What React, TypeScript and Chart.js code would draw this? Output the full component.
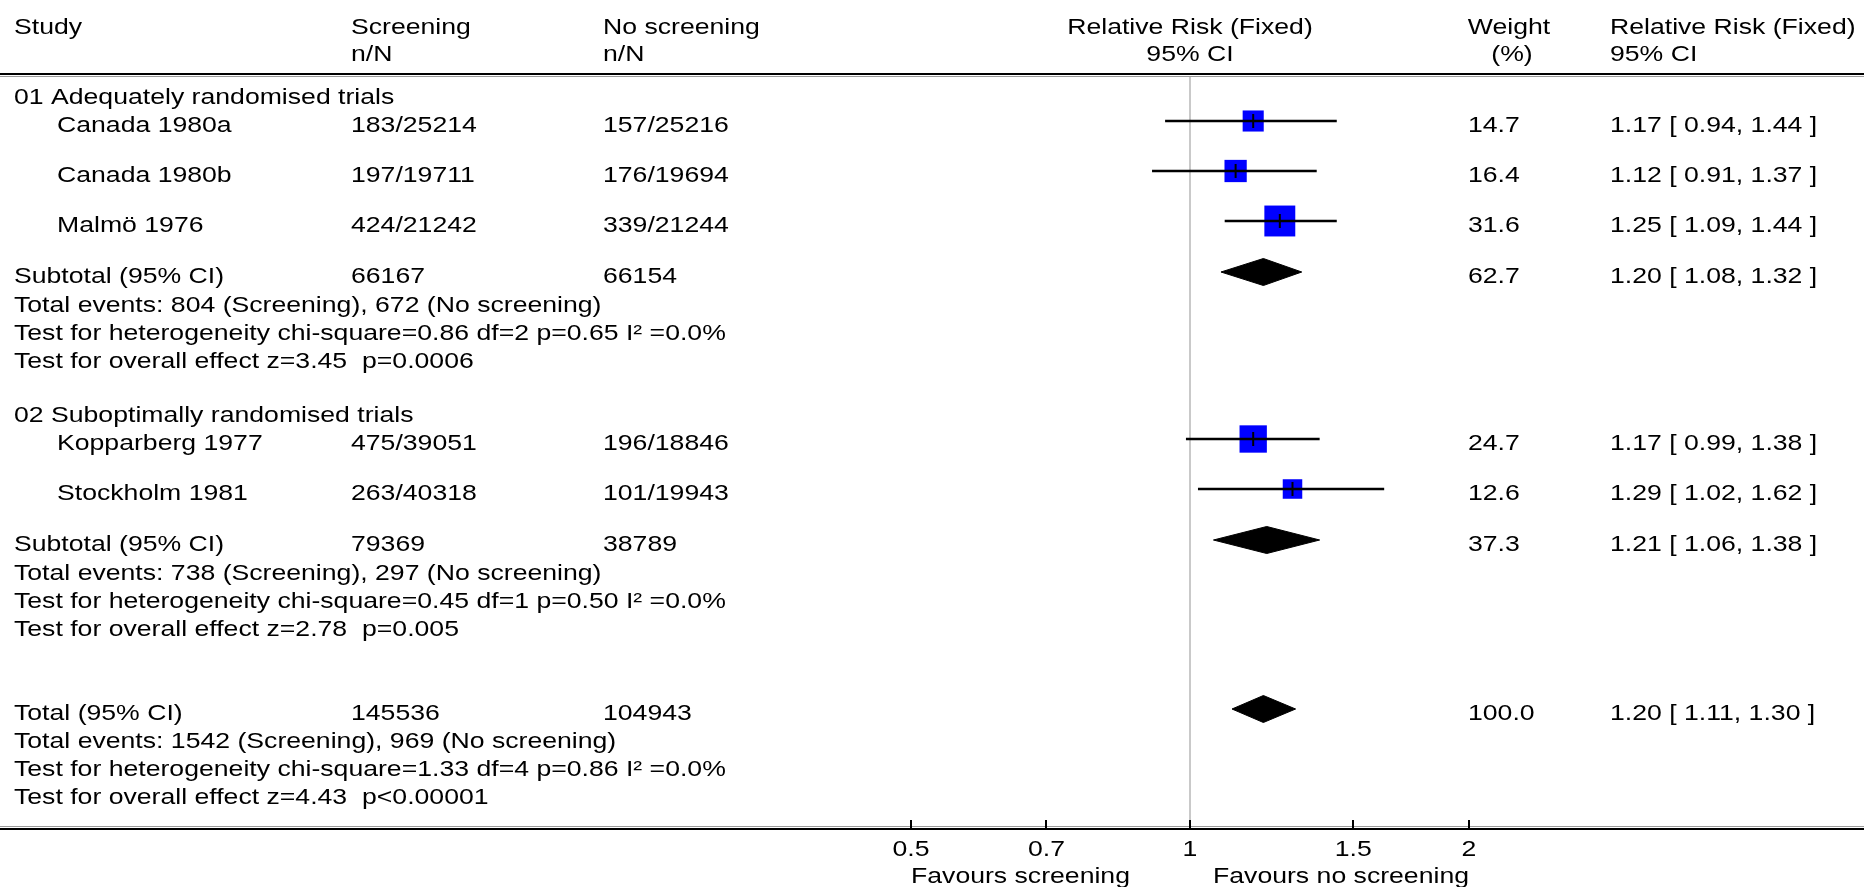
import React, { useEffect, useRef } from 'react';
import { Chart, registerables } from 'chart.js';

Chart.register(...registerables);

// ---------------- data ----------------
const groupTitles = ['01 Adequately randomised trials', '02 Suboptimally randomised trials'];

const studyGroup = [0, 0, 0, 1, 1];
const studyNames = ['Canada 1980a', 'Canada 1980b', 'Malmö 1976', 'Kopparberg 1977', 'Stockholm 1981'];
const screeningNN = ['183/25214', '197/19711', '424/21242', '475/39051', '263/40318'];
const noScreeningNN = ['157/25216', '176/19694', '339/21244', '196/18846', '101/19943'];
const studyWeights = [14.7, 16.4, 31.6, 24.7, 12.6];
const studyRR = [1.17, 1.12, 1.25, 1.17, 1.29];
const studyLo = [0.94, 0.91, 1.09, 0.99, 1.02];
const studyHi = [1.44, 1.37, 1.44, 1.38, 1.62];

const subtotalScreeningN = ['66167', '79369'];
const subtotalNoScreeningN = ['66154', '38789'];
const subtotalWeights = [62.7, 37.3];
const subtotalRR = [1.2, 1.21];
const subtotalLo = [1.08, 1.06];
const subtotalHi = [1.32, 1.38];
const subtotalEvents = [
  'Total events: 804 (Screening), 672 (No screening)',
  'Total events: 738 (Screening), 297 (No screening)',
];
const subtotalHet = [
  'Test for heterogeneity chi-square=0.86 df=2 p=0.65 I² =0.0%',
  'Test for heterogeneity chi-square=0.45 df=1 p=0.50 I² =0.0%',
];
const subtotalOverall = [
  'Test for overall effect z=3.45  p=0.0006',
  'Test for overall effect z=2.78  p=0.005',
];

const totalScreeningN = '145536';
const totalNoScreeningN = '104943';
const totalWeight = 100.0;
const totalRR = 1.2;
const totalLo = 1.11;
const totalHi = 1.3;
const totalEvents = 'Total events: 1542 (Screening), 969 (No screening)';
const totalHet = 'Test for heterogeneity chi-square=1.33 df=4 p=0.86 I² =0.0%';
const totalOverall = 'Test for overall effect z=4.43  p<0.00001';

const xTicks = [0.5, 0.7, 1, 1.5, 2];
const xTickLabels = ['0.5', '0.7', '1', '1.5', '2'];
const favoursLeft = 'Favours screening';
const favoursRight = 'Favours no screening';

// ---------------- layout ----------------
const W = 1864;
const H = 887;
const TOP = 77;
const BOTTOM = 829;
const PLOT_LEFT = 911;
const PLOT_RIGHT = 1469;
const Y_MAX = BOTTOM - TOP;
const FONT_FAMILY = '"Liberation Sans", Arial, sans-serif';
const FONT_SIZE = 22;
const TEXT_STRETCH = 1.21;

const COL = {
  study: 14,
  name: 57,
  scr: 351,
  noscr: 603,
  weight: 1468,
  rr: 1610,
};

const GAP = {
  firstHeading: 16,
  headingToStudy: 28,
  studyToStudy: 50,
  studyToSubtotal: 51,
  subtotalToText: 29,
  textLine: 28,
  textToHeading: 54,
  textToTotal: 84,
  totalToText: 28,
};

type Cell = { x: number; text: string; align?: CanvasTextAlign };
type Row = { y: number; cells: Cell[] };

const fmtRR = (r: number, lo: number, hi: number) =>
  `${r.toFixed(2)} [ ${lo.toFixed(2)}, ${hi.toFixed(2)} ]`;

function buildLayout() {
  const rows: Row[] = [];
  const studies: { y: number; i: number }[] = [];
  const diamonds: { y: number; est: number; lo: number; hi: number }[] = [];
  let y = 0;
  groupTitles.forEach((title, g) => {
    y += g === 0 ? GAP.firstHeading : GAP.textToHeading;
    rows.push({ y, cells: [{ x: COL.study, text: title }] });
    const idx = studyNames.map((_, i) => i).filter((i) => studyGroup[i] === g);
    idx.forEach((i, k) => {
      y += k === 0 ? GAP.headingToStudy : GAP.studyToStudy;
      rows.push({
        y,
        cells: [
          { x: COL.name, text: studyNames[i] },
          { x: COL.scr, text: screeningNN[i] },
          { x: COL.noscr, text: noScreeningNN[i] },
          { x: COL.weight, text: studyWeights[i].toFixed(1) },
          { x: COL.rr, text: fmtRR(studyRR[i], studyLo[i], studyHi[i]) },
        ],
      });
      studies.push({ y, i });
    });
    y += GAP.studyToSubtotal;
    rows.push({
      y,
      cells: [
        { x: COL.study, text: 'Subtotal (95% CI)' },
        { x: COL.scr, text: subtotalScreeningN[g] },
        { x: COL.noscr, text: subtotalNoScreeningN[g] },
        { x: COL.weight, text: subtotalWeights[g].toFixed(1) },
        { x: COL.rr, text: fmtRR(subtotalRR[g], subtotalLo[g], subtotalHi[g]) },
      ],
    });
    diamonds.push({ y, est: subtotalRR[g], lo: subtotalLo[g], hi: subtotalHi[g] });
    y += GAP.subtotalToText;
    rows.push({ y, cells: [{ x: COL.study, text: subtotalEvents[g] }] });
    y += GAP.textLine;
    rows.push({ y, cells: [{ x: COL.study, text: subtotalHet[g] }] });
    y += GAP.textLine;
    rows.push({ y, cells: [{ x: COL.study, text: subtotalOverall[g] }] });
  });
  y += GAP.textToTotal;
  rows.push({
    y,
    cells: [
      { x: COL.study, text: 'Total (95% CI)' },
      { x: COL.scr, text: totalScreeningN },
      { x: COL.noscr, text: totalNoScreeningN },
      { x: COL.weight, text: totalWeight.toFixed(1) },
      { x: COL.rr, text: fmtRR(totalRR, totalLo, totalHi) },
    ],
  });
  diamonds.push({ y, est: totalRR, lo: totalLo, hi: totalHi });
  y += GAP.totalToText;
  rows.push({ y, cells: [{ x: COL.study, text: totalEvents }] });
  y += GAP.textLine;
  rows.push({ y, cells: [{ x: COL.study, text: totalHet }] });
  y += GAP.textLine;
  rows.push({ y, cells: [{ x: COL.study, text: totalOverall }] });
  return { rows, studies, diamonds };
}

export default function App() {
  const ref = useRef<HTMLCanvasElement>(null);

  useEffect(() => {
    const canvas = ref.current;
    if (!canvas) return;
    const { rows, studies, diamonds } = buildLayout();
    const font = `${FONT_SIZE}px ${FONT_FAMILY}`;
    const squareRadius = (c: any) =>
      (5.5 * Math.sqrt(studyWeights[studies[c.dataIndex].i])) / Math.SQRT2;

    const datasets: any[] = [];
    // line of no effect
    datasets.push({
      type: 'line',
      data: [
        { x: 1, y: 0 },
        { x: 1, y: Y_MAX },
      ],
      borderColor: '#b8b8b8',
      borderWidth: 1.5,
      pointRadius: 0,
      order: 10,
    });
    // weighted squares
    datasets.push({
      type: 'scatter',
      data: studies.map((s) => ({ x: studyRR[s.i], y: s.y })),
      pointStyle: 'rect',
      pointRadius: squareRadius,
      pointHoverRadius: squareRadius,
      backgroundColor: '#0000ff',
      borderWidth: 0,
      order: 5,
    });
    // confidence intervals
    studies.forEach((s) => {
      datasets.push({
        type: 'line',
        data: [
          { x: studyLo[s.i], y: s.y },
          { x: studyHi[s.i], y: s.y },
        ],
        borderColor: '#000',
        borderWidth: 2.5,
        pointRadius: 0,
        order: 1,
      });
    });
    // point-estimate ticks
    datasets.push({
      type: 'scatter',
      data: studies.map((s) => ({ x: studyRR[s.i], y: s.y })),
      pointStyle: 'line',
      rotation: 90,
      pointRadius: 7,
      borderColor: '#000',
      borderWidth: 2,
      order: 0,
    });
    // pooled diamonds
    diamonds.forEach((d) => {
      datasets.push({
        type: 'line',
        data: [
          { x: d.lo, y: d.y },
          { x: d.est, y: d.y - 13.5 },
          { x: d.hi, y: d.y },
          { x: d.est, y: d.y + 13.5 },
          { x: d.lo, y: d.y },
        ],
        borderColor: '#000',
        backgroundColor: '#000',
        borderWidth: 1,
        pointRadius: 0,
        tension: 0,
        fill: 'shape',
        order: 2,
      });
    });

    const forestPlugin = {
      id: 'forestText',
      beforeDraw(chart: any) {
        const ctx = chart.ctx;
        ctx.save();
        ctx.fillStyle = '#fff';
        ctx.fillRect(0, 0, W, H);
        ctx.restore();
      },
      afterDraw(chart: any) {
        const ctx: CanvasRenderingContext2D = chart.ctx;
        const xs = chart.scales.x;
        const ys = chart.scales.y;
        ctx.save();
        // rules
        ctx.fillStyle = '#000';
        ctx.fillRect(0, TOP - 4, W, 2);
        ctx.fillStyle = '#9a9a9a';
        ctx.fillRect(0, TOP - 1, W, 1);
        ctx.fillStyle = '#9a9a9a';
        ctx.fillRect(0, BOTTOM - 3, W, 1);
        ctx.fillStyle = '#000';
        ctx.fillRect(0, BOTTOM - 1, W, 2);
        // tick marks
        xTicks.forEach((v) => {
          const px = Math.round(xs.getPixelForValue(v));
          ctx.fillRect(px - 1, BOTTOM - 9, 2, 9);
        });
        // text
        ctx.font = font;
        ctx.fillStyle = '#000';
        ctx.textBaseline = 'alphabetic';
        const put = (s: string, x: number, y: number, align: CanvasTextAlign = 'left') => {
          ctx.save();
          ctx.translate(x, y);
          ctx.scale(TEXT_STRETCH, 1);
          ctx.textAlign = align;
          ctx.fillText(s, 0, 0);
          ctx.restore();
        };
        const x1 = xs.getPixelForValue(1);
        // header
        put('Study', COL.study, 34);
        put('Screening', COL.scr, 34);
        put('n/N', COL.scr, 61);
        put('No screening', COL.noscr, 34);
        put('n/N', COL.noscr, 61);
        put('Relative Risk (Fixed)', x1, 34, 'center');
        put('95% CI', x1, 61, 'center');
        put('Weight', 1509, 34, 'center');
        put('(%)', 1512, 61, 'center');
        put('Relative Risk (Fixed)', COL.rr, 34);
        put('95% CI', COL.rr, 61);
        // rows
        rows.forEach((r) => {
          const py = ys.getPixelForValue(r.y) + 11;
          r.cells.forEach((c) => put(c.text, c.x, py, c.align || 'left'));
        });
        // tick labels
        xTicks.forEach((v, i) => {
          put(xTickLabels[i], xs.getPixelForValue(v), BOTTOM + 27, 'center');
        });
        // favours labels
        put(favoursLeft, xs.getPixelForValue(xTicks[0]), 883, 'left');
        put(favoursRight, xs.getPixelForValue(xTicks[xTicks.length - 1]), 883, 'right');
        ctx.restore();
      },
    };

    const chart = new Chart(canvas, {
      type: 'scatter',
      data: { datasets },
      options: {
        responsive: false,
        animation: false,
        events: [],
        layout: {
          padding: { left: PLOT_LEFT, right: W - PLOT_RIGHT, top: TOP, bottom: H - BOTTOM },
        },
        plugins: {
          legend: { display: false },
          tooltip: { enabled: false },
        },
        scales: {
          x: {
            type: 'logarithmic',
            min: xTicks[0],
            max: xTicks[xTicks.length - 1],
            position: 'bottom',
            afterBuildTicks: (s: any) => {
              s.ticks = xTicks.map((v) => ({ value: v }));
            },
            afterFit: (s: any) => {
              s.height = 0;
            },
            ticks: { display: false },
            grid: { display: false, drawTicks: false },
            border: { display: false },
          },
          y: {
            type: 'linear',
            min: 0,
            max: Y_MAX,
            reverse: true,
            display: false,
          },
        },
      } as any,
      plugins: [forestPlugin],
    });
    return () => chart.destroy();
  }, []);

  return (
    <div style={{ position: 'fixed', left: 0, top: 0, width: W, height: H, background: '#fff' }}>
      <canvas ref={ref} width={W} height={H} style={{ width: W, height: H, display: 'block' }} />
    </div>
  );
}
